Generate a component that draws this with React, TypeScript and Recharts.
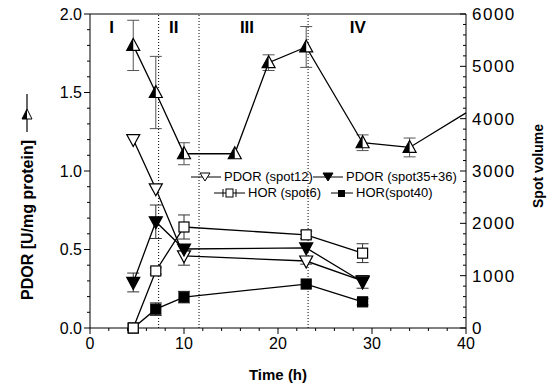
import React from "react";
import { ComposedChart, Line, XAxis, YAxis, ErrorBar, ReferenceLine, ReferenceDot } from "recharts";

// sampling times (h)
const times = [4.6, 7.0, 10, 15.4, 19, 23, 29, 34, 40];

// PDOR activity, U/mg protein (left axis)
const activity = [1.8, 1.5, 1.11, 1.11, 1.69, 1.79, 1.18, 1.15, 1.37];
const activityErr = [0.16, 0.23, 0.07, 0, 0.05, 0.13, 0.05, 0.06, null];

// spot volumes (right axis)
const spot12 = [3600, 2660, 1380, null, null, 1280, 900, null, null];
const spot12Err = [0, 0, 180, null, null, 60, 0, null, null];
const spot35 = [870, 2030, 1510, null, null, 1530, 880, null, null];
const spot35Err = [180, 320, 0, null, null, 0, 120, null, null];
const spot6 = [0, 1090, 1930, null, null, 1780, 1430, null, null];
const spot6Err = [0, 60, 230, null, null, 70, 180, null, null];
const spot40 = [0, 360, 590, null, null, 840, 500, null, null];
const spot40Err = [0, 120, 110, null, null, 0, 60, null, null];

const phaseLines = [7.3, 11.6, 23.2];
const phases = [
  { label: "I", x: 2.3 },
  { label: "II", x: 8.9 },
  { label: "III", x: 16.7 },
  { label: "IV", x: 28.5 },
];

const leftTicks = Array.from({ length: 21 }, (_, i) => i / 10);
const rightTicks = Array.from({ length: 31 }, (_, i) => i * 200);
const xTicks = Array.from({ length: 21 }, (_, i) => i * 2);

const data = times.map((t, i) => ({
  time: t,
  activity: activity[i],
  activityErr: activityErr[i],
  spot12: spot12[i],
  spot12Err: spot12Err[i],
  spot35: spot35[i],
  spot35Err: spot35Err[i],
  spot6: spot6[i],
  spot6Err: spot6Err[i],
  spot40: spot40[i],
  spot40Err: spot40Err[i],
}));

const FONT = "'Liberation Sans', Arial, sans-serif";

const HalfUp = (p: any) => {
  const { cx, cy, payload } = p;
  if (cx == null || cy == null || payload.time >= 40) return <g />;
  const w = 6.5;
  const top = cy - 7;
  const bot = cy + 5;
  return (
    <g>
      <polygon points={`${cx},${top} ${cx - w},${bot} ${cx + w},${bot}`} fill="#fff" />
      <polygon points={`${cx},${top} ${cx - w},${bot} ${cx},${bot}`} fill="#000" />
      <polygon points={`${cx},${top} ${cx - w},${bot} ${cx + w},${bot}`} fill="none" stroke="#000" strokeWidth={1.2} />
    </g>
  );
};

const DownTri = (filled: boolean) => (p: any) => {
  const { cx, cy } = p;
  if (cx == null || cy == null) return <g />;
  const w = 6.5;
  return (
    <polygon
      points={`${cx - w},${cy - 5} ${cx + w},${cy - 5} ${cx},${cy + 7}`}
      fill={filled ? "#000" : "#fff"}
      stroke="#000"
      strokeWidth={1.2}
    />
  );
};

const Sq = (filled: boolean) => (p: any) => {
  const { cx, cy } = p;
  if (cx == null || cy == null) return <g />;
  return (
    <rect x={cx - 5} y={cy - 5} width={10} height={10} fill={filled ? "#000" : "#fff"} stroke="#000" strokeWidth={1.2} />
  );
};

const LeftTick = ({ x, y, payload }: any) => {
  const v = payload.value;
  const major = Math.abs(v * 2 - Math.round(v * 2)) < 1e-6;
  return (
    <g>
      <line x1={x - (major ? 6 : 3)} x2={x} y1={y} y2={y} stroke="#000" />
      {major && (
        <text x={x - 8} y={y} dy="0.36em" textAnchor="end" fontSize={16} fontFamily={FONT} fill="#000">
          {v.toFixed(1)}
        </text>
      )}
    </g>
  );
};

const RightTick = ({ x, y, payload }: any) => {
  const v = payload.value;
  const major = v % 1000 === 0;
  return (
    <g>
      <line x1={x - (major ? 6 : 3)} x2={x} y1={y} y2={y} stroke="#000" />
      {major && (
        <text x={x + 6} y={y} dy="0.36em" textAnchor="start" fontSize={17} letterSpacing={1.5} fontFamily={FONT} fill="#000">
          {v}
        </text>
      )}
    </g>
  );
};

const BottomTick = ({ x, y, payload }: any) => {
  const v = payload.value;
  const major = v % 10 === 0;
  return (
    <g>
      <line x1={x} x2={x} y1={y} y2={y + (major ? 6 : 3)} stroke="#000" />
      {major && (
        <text x={x} y={y + 21} textAnchor="middle" fontSize={16} fontFamily={FONT} fill="#000">
          {v}
        </text>
      )}
    </g>
  );
};

const lineProps = { stroke: "#000", strokeWidth: 1.3, isAnimationActive: false, connectNulls: true, activeDot: false } as const;

export default function App() {
  return (
    <div style={{ position: "absolute", left: 0, top: 0, width: 550, height: 385, background: "#fff" }}>
      <ComposedChart width={550} height={385} data={data} margin={{ top: 14, right: 0, bottom: 0, left: 0 }}>
        <XAxis
          dataKey="time"
          type="number"
          domain={[0, 40]}
          ticks={xTicks}
          interval={0}
          height={57}
          tickSize={0}
          tickMargin={0}
          tick={(p: any) => <BottomTick {...p} />}
          axisLine={{ stroke: "#000" }}
        />
        <YAxis
          yAxisId="left"
          domain={[0, 2]}
          ticks={leftTicks}
          interval={0}
          width={90}
          tickSize={0}
          tickMargin={0}
          tick={(p: any) => <LeftTick {...p} />}
          axisLine={{ stroke: "#000" }}
        />
        <YAxis
          yAxisId="right"
          orientation="right"
          domain={[0, 6000]}
          ticks={rightTicks}
          interval={0}
          width={84}
          tickSize={0}
          tickMargin={0}
          tick={(p: any) => <RightTick {...p} />}
          axisLine={{ stroke: "#000" }}
        />
        <ReferenceLine yAxisId="left" y={2} stroke="#000" />
        {phaseLines.map((x) => (
          <ReferenceLine key={x} yAxisId="left" x={x} stroke="#000" strokeDasharray="1 2" />
        ))}
        {phases.map((ph) => (
          <ReferenceDot
            key={ph.label}
            yAxisId="left"
            x={ph.x}
            y={1.92}
            r={0}
            fill="none"
            stroke="none"
            label={{ value: ph.label, position: "center", fontSize: 17, fontWeight: "bold", fontFamily: FONT, fill: "#000" }}
          />
        ))}
        <Line yAxisId="right" dataKey="spot40" {...lineProps} dot={Sq(true)}>
          <ErrorBar dataKey="spot40Err" width={6} stroke="#333" strokeWidth={1} direction="y" />
        </Line>
        <Line yAxisId="right" dataKey="spot6" {...lineProps} dot={Sq(false)}>
          <ErrorBar dataKey="spot6Err" width={6} stroke="#333" strokeWidth={1} direction="y" />
        </Line>
        <Line yAxisId="right" dataKey="spot12" {...lineProps} dot={DownTri(false)}>
          <ErrorBar dataKey="spot12Err" width={6} stroke="#333" strokeWidth={1} direction="y" />
        </Line>
        <Line yAxisId="right" dataKey="spot35" {...lineProps} dot={DownTri(true)}>
          <ErrorBar dataKey="spot35Err" width={6} stroke="#333" strokeWidth={1} direction="y" />
        </Line>
        <Line yAxisId="left" dataKey="activity" {...lineProps} dot={HalfUp}>
          <ErrorBar dataKey="activityErr" width={6} stroke="#555" strokeWidth={1} direction="y" />
        </Line>
      </ComposedChart>

      <svg width={550} height={385} style={{ position: "absolute", left: 0, top: 0, pointerEvents: "none" }} fontFamily={FONT}>
        {/* axis titles */}
        <text x={278} y={380} textAnchor="middle" fontSize={15} fontWeight="bold">Time (h)</text>
        <text transform="translate(543,166) rotate(-90)" textAnchor="middle" fontSize={14} fontWeight="bold">Spot volume</text>
        <g transform="translate(33,220) rotate(-90)">
          <text x={0} y={0} textAnchor="middle" fontSize={16} fontWeight="bold">PDOR [U/mg protein]</text>
          <line x1={88} x2={126} y1={-6} y2={-6} stroke="#000" strokeWidth={1.2} />
          <polygon points="111,-6 101,-11 101,-1" fill="#fff" />
          <polygon points="111,-6 101,-11 101,-6" fill="#000" />
          <polygon points="111,-6 101,-11 101,-1" fill="none" stroke="#000" />
        </g>

        {/* legend */}
        <g fontSize={13}>
          <line x1={191} x2={221} y1={177} y2={177} stroke="#000" />
          <polygon points="200,173 210,173 205,181" fill="#fff" stroke="#000" />
          <text x={224} y={181}>PDOR (spot12)</text>
          <line x1={313} x2={343} y1={177} y2={177} stroke="#000" />
          <polygon points="323,173 333,173 328,181" fill="#000" stroke="#000" />
          <text x={346} y={181}>PDOR (spot35+36)</text>

          <line x1={214} x2={245} y1={193} y2={193} stroke="#000" />
          <line x1={223} x2={223} y1={189} y2={197} stroke="#000" />
          <line x1={236} x2={236} y1={189} y2={197} stroke="#000" />
          <rect x={226} y={189} width={7} height={8} fill="#fff" stroke="#000" />
          <text x={248} y={197}>HOR (spot6)</text>
          <line x1={331} x2={353} y1={193} y2={193} stroke="#000" />
          <rect x={338} y={190} width={7} height={7} fill="#000" />
          <text x={356} y={197}>HOR(spot40)</text>
        </g>
      </svg>
    </div>
  );
}
